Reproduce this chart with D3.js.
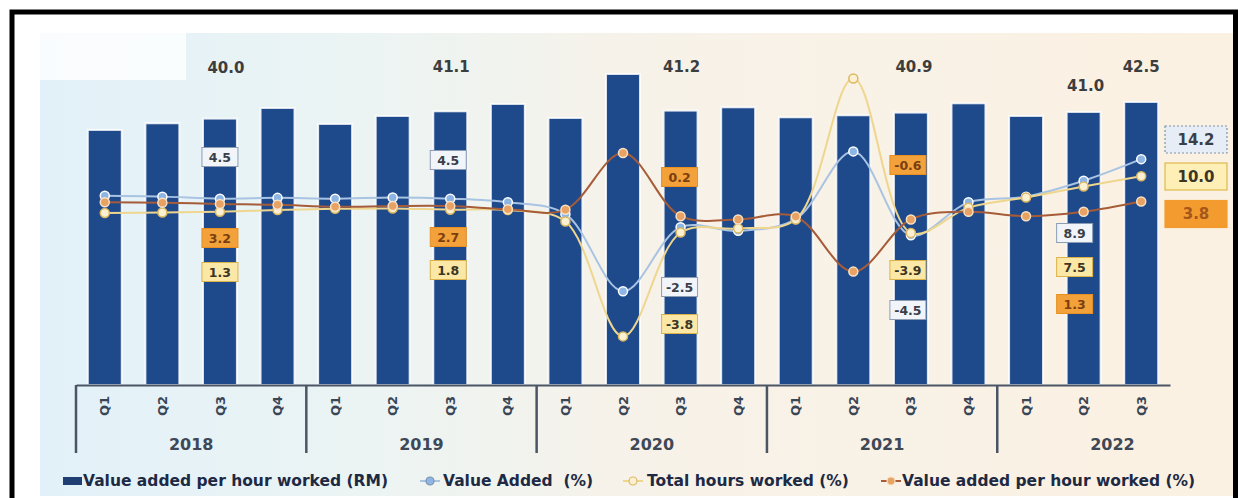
<!DOCTYPE html>
<html>
<head>
<meta charset="utf-8">
<script src="https://cdn.jsdelivr.net/npm/d3@7"></script>
<style>
  html, body { margin: 0; padding: 0; background: #ffffff; }
  svg { display: block; font-family: "DejaVu Sans", Verdana, sans-serif; }
  .keep-space { white-space: pre; }
</style>
</head>
<body>
<svg id="chart" width="1238" height="498"></svg>
<script>
// ---- data -------------------------------------------------------------
const periodYear    = ["2018","2018","2018","2018","2019","2019","2019","2019",
                       "2020","2020","2020","2020","2021","2021","2021","2021",
                       "2022","2022","2022"];
const periodQuarter = ["Q1","Q2","Q3","Q4","Q1","Q2","Q3","Q4",
                       "Q1","Q2","Q3","Q4","Q1","Q2","Q3","Q4",
                       "Q1","Q2","Q3"];
const years = ["2018","2019","2020","2021","2022"];

// Value added per hour worked (RM)
const rmPerHour     = [38.3, 39.3, 40.0, 41.6, 39.2, 40.4, 41.1, 42.2,
                       40.1, 46.7, 41.2, 41.7, 40.2, 40.5, 40.9, 42.3,
                       40.4, 41.0, 42.5];
// Value Added (%)
const valueAddedPct = [5.2, 5.0, 4.5, 4.7, 4.5, 4.8, 4.5, 3.6,
                       0.7, -18.2, -2.5, -3.4, -0.5, 16.1, -4.5, 3.6,
                       5.0, 8.9, 14.2];
// Total hours worked (%)
const hoursPct      = [1.0, 1.1, 1.3, 1.7, 2.0, 2.1, 1.8, 1.7,
                       -1.1, -29.3, -3.8, -2.8, -0.6, 34.0, -3.9, 2.3,
                       4.8, 7.5, 10.0];
// Value added per hour worked (%)
const vaPerHourPct  = [3.6, 3.5, 3.2, 3.0, 2.5, 2.7, 2.7, 1.9,
                       1.8, 15.7, 0.2, -0.6, 0.1, -13.4, -0.6, 1.3,
                       0.2, 1.3, 3.8];

// quarters whose bar value is printed, and quarters with value boxes
const barLabelIdx  = [2, 6, 10, 14, 17, 18];
const boxLabelIdx  = [2, 6, 10, 14, 17];
const lastIdx      = 18;

// one decimal, plain hyphen for negatives
const fmt = v => d3.format(".1f")(v).replace("\u2212", "-");

// ---- layout -----------------------------------------------------------
const svg = d3.select("#chart");
const W = 1238, H = 498;
const baseY = 385;

const defs = svg.append("defs");
const grad = defs.append("linearGradient").attr("id", "bgGrad")
  .attr("x1", "0").attr("x2", "1").attr("y1", "0").attr("y2", "0");
[["0", "#e2f1f9"], ["0.28", "#ecf4f3"], ["0.5", "#f7f2e9"], ["1", "#fbf1e2"]]
  .forEach(([o, c]) => grad.append("stop").attr("offset", o).attr("stop-color", c));

svg.append("rect").attr("width", W).attr("height", H).attr("fill", "#ffffff");
svg.append("rect").attr("x", 40).attr("y", 33).attr("width", 1193).attr("height", 463)
  .attr("fill", "url(#bgGrad)");
svg.append("rect").attr("x", 40).attr("y", 33).attr("width", 146).attr("height", 47)
  .attr("fill", "#ffffff").attr("opacity", 0.8);

const idx = d3.range(rmPerHour.length);
const x = d3.scaleBand().domain(idx).range([76, 1170])
  .paddingInner(0.41).paddingOuter(0.205);
const bw = x.bandwidth();
const cx = i => x(i) + bw / 2;
const yBar = d3.scaleLinear().domain([0, 50]).range([baseY, 52]);
const yPct = d3.scaleLinear().domain([-40, 40]).range([380, 54]);

// ---- bars -------------------------------------------------------------
svg.append("g").selectAll("rect").data(idx).join("rect")
  .attr("x", i => x(i))
  .attr("y", i => yBar(rmPerHour[i]))
  .attr("width", bw)
  .attr("height", i => baseY - yBar(rmPerHour[i]))
  .attr("fill", "#1e4a8c")
  .attr("stroke", "rgba(255,255,255,0.85)")
  .attr("stroke-width", 2);

// bar value labels
const barLabelPos = { 2: [6, 73], 6: [1, 72], 10: [1, 72], 14: [3, 72], 17: [2, 91], 18: [0, 72] };
svg.append("g").selectAll("text").data(barLabelIdx).join("text")
  .attr("x", i => cx(i) + barLabelPos[i][0])
  .attr("y", i => barLabelPos[i][1])
  .attr("text-anchor", "middle")
  .attr("font-size", 15).attr("font-weight", "bold").attr("fill", "#3d3d3d")
  .text(i => fmt(rmPerHour[i]));

// ---- category axis ----------------------------------------------------
const axisG = svg.append("g").attr("transform", `translate(0,${baseY})`)
  .call(d3.axisBottom(x).tickSize(0).tickSizeOuter(0).tickFormat(i => periodQuarter[i]));
axisG.select(".domain").attr("stroke", "#4a5566").attr("stroke-width", 2);
axisG.selectAll(".tick text")
  .attr("y", 0).attr("dy", "0.35em")
  .attr("transform", "translate(0,21) rotate(-90)")
  .attr("text-anchor", "middle")
  .attr("font-family", "DejaVu Sans, sans-serif")
  .attr("font-size", 13).attr("font-weight", "bold").attr("fill", "#3a4656");

const boundary = i => x(i) - (x.step() - bw) / 2;
const yearStart = years.map(yr => periodYear.indexOf(yr));
svg.append("g").selectAll("line").data(yearStart).join("line")
  .attr("x1", s => boundary(s)).attr("x2", s => boundary(s))
  .attr("y1", baseY).attr("y2", 453)
  .attr("stroke", "#4a5566").attr("stroke-width", 2.5);
svg.append("g").selectAll("text").data(years).join("text")
  .attr("x", (yr, k) => boundary(yearStart[k]) + 2 * x.step())
  .attr("y", 450)
  .attr("text-anchor", "middle")
  .attr("font-size", 16).attr("font-weight", "bold").attr("fill", "#3e4856")
  .text(d => d);

// ---- lines ------------------------------------------------------------
const series = [
  { name: "Value Added  (%)", values: valueAddedPct, line: "#a9c3e2", lw: 2,
    mFill: "#8eb6e4", mStroke: "#ffffff" },
  { name: "Total hours worked (%)", values: hoursPct, line: "#efd68e", lw: 2,
    mFill: "#fbf0d2", mStroke: "#dcb861" },
  { name: "Value added per hour worked (%)", values: vaPerHourPct, line: "#a65c38", lw: 2,
    mFill: "#e8a263", mStroke: "#f7e2c8" }
];
const lineGen = d3.line().x((v, i) => cx(i)).y(v => yPct(v))
  .curve(d3.curveCatmullRom.alpha(0.5));

series.forEach(s => {
  const g = svg.append("g");
  g.append("path").attr("d", lineGen(s.values)).attr("fill", "none")
    .attr("stroke", s.line).attr("stroke-width", s.lw);
  g.selectAll("circle").data(s.values).join("circle")
    .attr("cx", (v, i) => cx(i)).attr("cy", v => yPct(v)).attr("r", 4.5)
    .attr("fill", s.mFill).attr("stroke", s.mStroke).attr("stroke-width", 1.5);
});

// ---- value boxes ------------------------------------------------------
const boxStyle = [
  { fill: "#f1f4f9", stroke: "#8c9db3", text: "#3a3f48" },
  { fill: "#fbe8a6", stroke: "#dcb24a", text: "#3b3523" },
  { fill: "#f3a13a", stroke: "#e88f22", text: "#7a3f10" }
];
// vertical placement of each box, per quarter (series order: VA, hours, VA/hour)
const boxPos = {
  2:  { dx: 0,  y: [157, 272, 238] },
  6:  { dx: -2, y: [160, 270, 237] },
  10: { dx: -1, y: [287, 324, 177] },
  14: { dx: -3, y: [310, 270, 165] },
  17: { dx: -9, y: [233, 267, 304] }
};
const boxG = svg.append("g");
boxLabelIdx.forEach(i => {
  series.forEach((s, k) => {
    const st = boxStyle[k];
    const bx = cx(i) + boxPos[i].dx, by = boxPos[i].y[k];
    boxG.append("rect").attr("x", bx - 18).attr("y", by - 9.5)
      .attr("width", 36).attr("height", 19)
      .attr("fill", st.fill).attr("stroke", st.stroke).attr("stroke-width", 1);
    boxG.append("text").attr("x", bx).attr("y", by).attr("dy", "0.36em")
      .attr("text-anchor", "middle").attr("font-size", 12.5).attr("font-weight", "bold")
      .attr("fill", st.text).text(fmt(s.values[i]));
  });
});
// end-of-series boxes
const endBoxStyle = [
  { fill: "#e7edf6", stroke: "#7f93ab", text: "#3a3f48", dash: "2,2" },
  { fill: "#fdefb6", stroke: "#dfb94e", text: "#3b3523", dash: null },
  { fill: "#f39b2e", stroke: "#f39b2e", text: "#a4561b", dash: null }
];
const endY = [139.5, 176.5, 214];
series.forEach((s, k) => {
  const st = endBoxStyle[k];
  boxG.append("rect").attr("x", 1165).attr("y", endY[k] - 13.5)
    .attr("width", 62).attr("height", 27)
    .attr("fill", st.fill).attr("stroke", st.stroke).attr("stroke-width", 1.2)
    .attr("stroke-dasharray", st.dash);
  boxG.append("text").attr("x", 1196).attr("y", endY[k]).attr("dy", "0.36em")
    .attr("text-anchor", "middle").attr("font-size", 15).attr("font-weight", "bold")
    .attr("fill", st.text).text(fmt(s.values[lastIdx]));
});

// ---- legend -----------------------------------------------------------
const legY = 481;
const leg = svg.append("g").attr("font-size", 15.5).attr("font-weight", "bold").attr("fill", "#1e2a44");
leg.append("rect").attr("x", 63).attr("y", legY - 4).attr("width", 19).attr("height", 8).attr("fill", "#1f3f73");
leg.append("text").attr("x", 83).attr("y", legY).attr("dy", "0.35em").text("Value added per hour worked (RM)");
const legItems = [
  { s: series[0], mx: 430, tx: 443 },
  { s: series[1], mx: 633, tx: 647 },
  { s: series[2], mx: 891, tx: 902 }
];
legItems.forEach(it => {
  leg.append("line").attr("x1", it.mx - 10).attr("x2", it.mx + 10).attr("y1", legY).attr("y2", legY)
    .attr("stroke", it.s.line).attr("stroke-width", 2);
  leg.append("circle").attr("cx", it.mx).attr("cy", legY).attr("r", 4)
    .attr("fill", it.s.mFill).attr("stroke", it.s.mStroke === "#ffffff" ? "#7f93ab" : it.s.mStroke)
    .attr("stroke-width", 1.2);
  leg.append("text").attr("class", "keep-space").attr("x", it.tx).attr("y", legY)
    .attr("dy", "0.35em").text(it.s.name);
});

// ---- frame ------------------------------------------------------------
svg.append("rect").attr("x", 12).attr("y", 12).attr("width", 1223.5).attr("height", 500)
  .attr("fill", "none").attr("stroke", "#000000").attr("stroke-width", 5);
</script>
</body>
</html>
